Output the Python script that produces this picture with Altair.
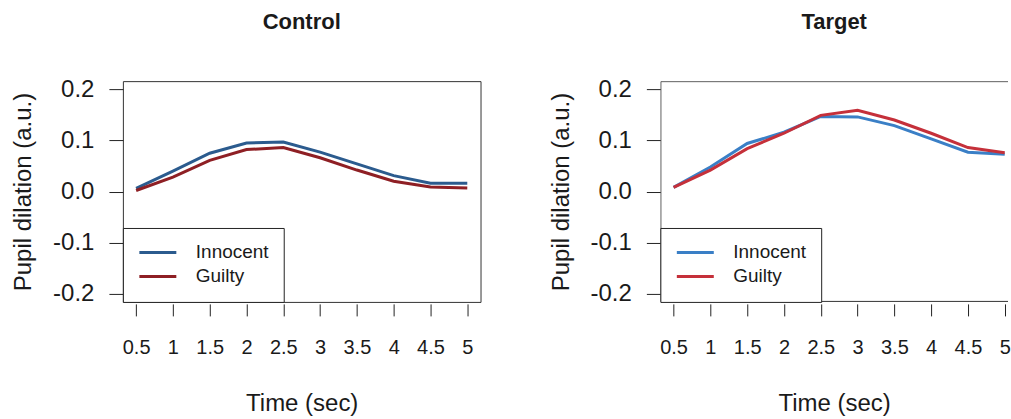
import altair as alt
import pandas as pd

times = [0.5, 1, 1.5, 2, 2.5, 3, 3.5, 4, 4.5, 5]
groups = ["Innocent", "Guilty"]
control_innocent = [0.006, 0.040, 0.075, 0.095, 0.097, 0.077, 0.054, 0.031, 0.016, 0.016]
control_guilty = [0.002, 0.028, 0.061, 0.082, 0.086, 0.066, 0.042, 0.020, 0.009, 0.007]
target_innocent = [0.008, 0.048, 0.094, 0.116, 0.147, 0.146, 0.129, 0.103, 0.077, 0.073]
target_guilty = [0.008, 0.042, 0.084, 0.114, 0.149, 0.159, 0.140, 0.114, 0.086, 0.076]
x_ticks = [0.5, 1, 1.5, 2, 2.5, 3, 3.5, 4, 4.5, 5]
y_ticks = [-0.2, -0.1, 0.0, 0.1, 0.2]

control_colors = ["#2b5b8e", "#8e1f24"]
target_colors = ["#3a7fc6", "#c5303a"]

FONT = "Liberation Sans"
TXT = "#1a1a1a"
EDGE = "#333333"
H = 221


def make_df(inno, guil):
    rows = []
    for t, v in zip(times, inno):
        rows.append({"time": t, "value": v, "group": "Innocent"})
    for t, v in zip(times, guil):
        rows.append({"time": t, "value": v, "group": "Guilty"})
    return pd.DataFrame(rows)


def panel(title, df, colors, width, xmax, open_right):
    x_enc = alt.X(
        "time:Q",
        scale=alt.Scale(domain=[0.32, xmax], nice=False, zero=False),
        axis=alt.Axis(
            values=x_ticks, format="~g", title="Time (sec)", grid=False,
            domain=False, ticks=True, tickSize=12, tickColor="#222",
            offset=2, labelFontSize=20, labelFont=FONT, labelColor=TXT,
            labelPadding=22, titleFontSize=24, titleFont=FONT,
            titleFontWeight="normal", titleColor=TXT, titlePadding=34,
            labelOverlap=False,
        ),
    )
    y_enc = alt.Y(
        "value:Q",
        scale=alt.Scale(domain=[-0.216, 0.216], nice=False, zero=False),
        axis=alt.Axis(
            values=y_ticks,
            labelExpr="datum.value < 0 ? '-' + format(-datum.value, '.1f') : format(datum.value, '.1f')",
            title="Pupil dilation (a.u.)", grid=False, domain=False,
            tickSize=14, tickColor="#222", labelFontSize=24, labelFont=FONT,
            labelColor=TXT, labelPadding=15, titleFontSize=24, titleFont=FONT,
            titleFontWeight="normal", titleColor=TXT, titlePadding=17,
        ),
    )
    lines = alt.Chart(df).mark_line(strokeWidth=3).encode(
        x=x_enc,
        y=y_enc,
        color=alt.Color(
            "group:N",
            scale=alt.Scale(domain=groups, range=colors),
            legend=alt.Legend(
                orient="bottom-left", offset=0, title=None,
                strokeColor="#222", fillColor="white", padding=15,
                symbolType="stroke", symbolSize=1369, symbolStrokeWidth=3,
                clipHeight=19,
                labelFontSize=19, labelFont=FONT, labelColor=TXT,
                labelOffset=18, rowPadding=4, cornerRadius=0,
            ),
        ),
        detail="group:N",
    )
    layers = [lines]
    if open_right:
        frame = alt.Chart(pd.DataFrame({"k": [0]})).mark_rect(
            fill=None, fillOpacity=0, stroke=EDGE, strokeWidth=1, clip=True
        ).encode(
            x=alt.value(0.5), x2=alt.value(width + 40),
            y=alt.value(0.5), y2=alt.value(H - 0.5),
        )
        layers = [frame, lines]
        view = alt.ViewBackground(stroke=None)
    else:
        view = alt.ViewBackground(stroke=EDGE, strokeWidth=1)
    ch = alt.layer(*layers).properties(
        width=width, height=H, view=view,
        title=alt.TitleParams(
            title, fontSize=22, fontWeight="bold", font=FONT, color=TXT,
            anchor="middle", frame="group", offset=43,
        ),
    )
    return ch


left_chart = panel("Control", make_df(control_innocent, control_guilty),
                   control_colors, 358, 5.18, False)
right_chart = panel("Target", make_df(target_innocent, target_guilty),
                    target_colors, 348, 0.32 + 348 / 73.66, True)

chart = alt.hconcat(left_chart, right_chart, spacing=67).resolve_scale(
    color="independent"
).properties(
    padding={"left": 11, "top": 10, "right": 0, "bottom": 0},
    background="white",
)

chart.save("out.html", embed_options={"renderer": "svg", "actions": False})
